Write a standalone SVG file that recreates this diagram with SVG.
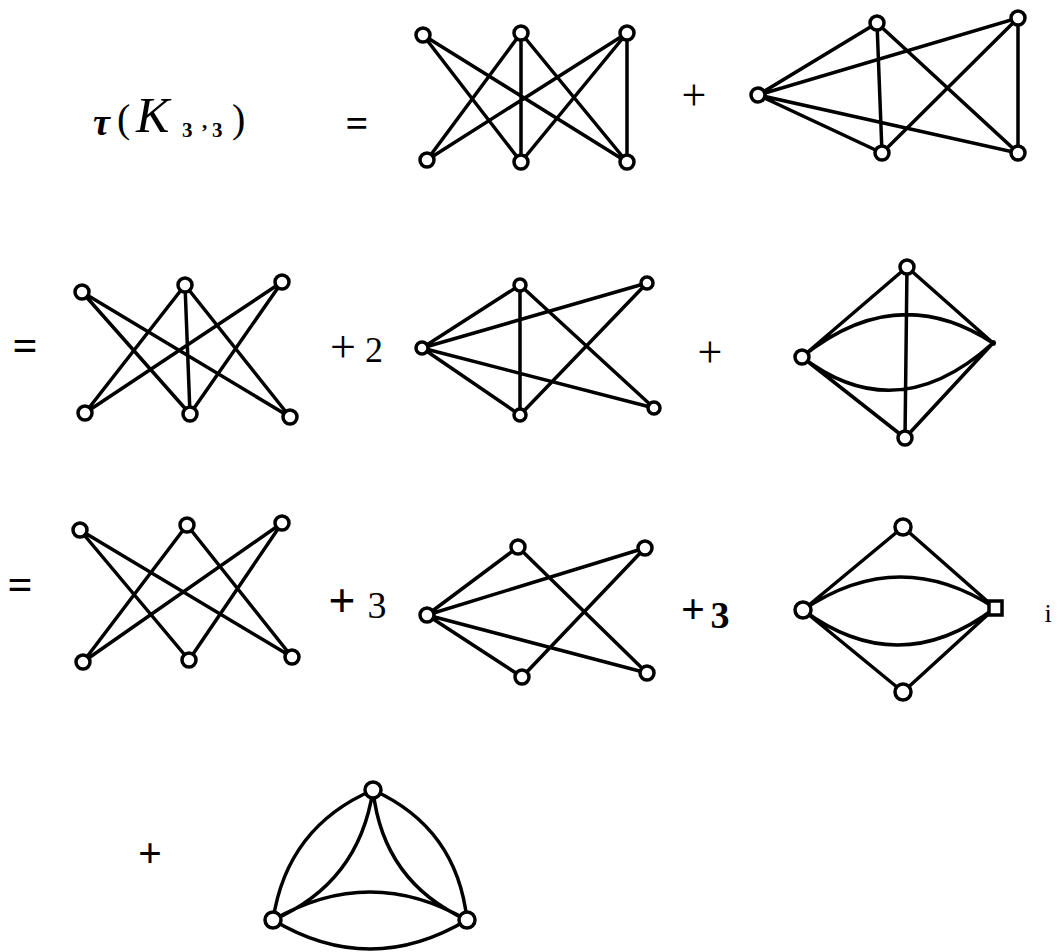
<svg xmlns="http://www.w3.org/2000/svg" width="1060" height="952" viewBox="0 0 1060 952">
<style>
.e{stroke:#000;stroke-width:3.5;fill:none;stroke-linecap:round}
.n{fill:#fff;stroke:#000;stroke-width:3.5}
.t{font-family:"Liberation Serif","DejaVu Serif",serif;fill:#000}
</style>
<rect width="1060" height="952" fill="#fff"/>

<g id="labels" class="t">
  <text x="93" y="135" font-size="38" font-weight="bold" font-style="italic">τ</text>
  <text x="117" y="132" font-size="40">(</text>
  <text x="136" y="132" font-size="50" font-style="italic">K</text>
  <text x="182" y="137" font-size="21" font-weight="bold">3</text>
  <text x="202" y="128" font-size="21" font-weight="bold">,</text>
  <text x="212" y="137" font-size="21" font-weight="bold">3</text>
  <text x="232" y="132" font-size="40">)</text>
  <text x="357" y="137" font-size="40" font-weight="bold" text-anchor="middle">=</text>
  <text x="694" y="110" font-size="44" text-anchor="middle">+</text>
  <text x="25" y="360" font-size="44" font-weight="bold" text-anchor="middle">=</text>
  <text x="343" y="362" font-size="46" text-anchor="middle">+</text>
  <text x="374" y="362" font-size="36" text-anchor="middle">2</text>
  <text x="710" y="367" font-size="44" text-anchor="middle">+</text>
  <text x="20" y="599" font-size="44" font-weight="bold" text-anchor="middle">=</text>
  <text x="342" y="617" font-size="48" text-anchor="middle" font-weight="bold">+</text>
  <text x="377" y="618" font-size="38" text-anchor="middle">3</text>
  <text x="693" y="623" font-size="42" text-anchor="middle" font-weight="bold">+</text>
  <text x="720" y="628" font-size="38" text-anchor="middle" font-weight="bold">3</text>
  <text x="1048" y="622" font-size="26" text-anchor="middle">i</text>
  <text x="150" y="867" font-size="42" text-anchor="middle" font-weight="bold">+</text>
</g>

<g id="connectors">
  <!-- A -->
  <path class="e" d="M423,35L521,162M423,35L627,162M521,33L427,160M521,33L521,162M521,33L627,162M627,33L427,160M627,33L521,162M627,33L627,162"/>
  <!-- B -->
  <path class="e" d="M758,95L877,23M758,95L1018,18M758,95L882,153M758,95L1018,153M877,23L882,153M877,23L1018,153M1018,18L882,153M1018,18L1018,153"/>
  <!-- C -->
  <path class="e" d="M82,292L190,414M82,292L290,417M185,285L85,413M185,285L190,414M185,285L290,417M282,282L85,413M282,282L190,414"/>
  <!-- D -->
  <path class="e" d="M422,348L520,285M422,348L647,283M422,348L520,415M422,348L654,408M520,285L520,415M520,285L654,408M647,283L520,415"/>
  <!-- E -->
  <path class="e" d="M907,267L802,357M907,267L993,343M907,267L905,438M802,357L905,438M993,343L905,438M802,357Q897,280 993,343M802,357Q897,430 993,343"/>
  <!-- F -->
  <path class="e" d="M80,530L189,660M80,530L292,657M187,525L83,662M187,525L292,657M282,523L83,662M282,523L189,660"/>
  <!-- G -->
  <path class="e" d="M427,615L518,547M427,615L645,548M427,615L522,677M427,615L647,673M518,547L647,673M645,548L522,677"/>
  <!-- H -->
  <path class="e" d="M803,610L903,527M903,527L995,608M803,610L903,692M903,692L995,608M803,610Q899,545 995,608M803,610Q899,681 995,608"/>
  <!-- I -->
  <path class="e" d="M373,790Q287,827 273,920M373,790Q359,883 273,920M373,790Q457,828 467,920M373,790Q383,882 467,920M273,920Q370,864 467,920M273,920Q370,978 467,920"/>
</g>

<g id="graphA">
  <g id="A-TL"><circle class="n" cx="423" cy="35" r="7"/></g>
  <g id="A-TM"><circle class="n" cx="521" cy="33" r="7"/></g>
  <g id="A-TR"><circle class="n" cx="627" cy="33" r="7"/></g>
  <g id="A-BL"><circle class="n" cx="427" cy="160" r="7"/></g>
  <g id="A-BM"><circle class="n" cx="521" cy="162" r="7"/></g>
  <g id="A-BR"><circle class="n" cx="627" cy="162" r="7"/></g>
</g>
<g id="graphB">
  <g id="B-L"><circle class="n" cx="758" cy="95" r="7"/></g>
  <g id="B-T"><circle class="n" cx="877" cy="23" r="7"/></g>
  <g id="B-TR"><circle class="n" cx="1018" cy="18" r="7"/></g>
  <g id="B-B"><circle class="n" cx="882" cy="153" r="7"/></g>
  <g id="B-BR"><circle class="n" cx="1018" cy="153" r="7"/></g>
</g>
<g id="graphC">
  <g id="C-TL"><circle class="n" cx="82" cy="292" r="7"/></g>
  <g id="C-TM"><circle class="n" cx="185" cy="285" r="7"/></g>
  <g id="C-TR"><circle class="n" cx="282" cy="282" r="7"/></g>
  <g id="C-BL"><circle class="n" cx="85" cy="413" r="7"/></g>
  <g id="C-BM"><circle class="n" cx="190" cy="414" r="7"/></g>
  <g id="C-BR"><circle class="n" cx="290" cy="417" r="7"/></g>
</g>
<g id="graphD">
  <g id="D-L"><circle class="n" cx="422" cy="348" r="6"/></g>
  <g id="D-T"><circle class="n" cx="520" cy="285" r="6"/></g>
  <g id="D-TR"><circle class="n" cx="647" cy="283" r="6"/></g>
  <g id="D-B"><circle class="n" cx="520" cy="415" r="6"/></g>
  <g id="D-BR"><circle class="n" cx="654" cy="408" r="6"/></g>
</g>
<g id="graphE">
  <g id="E-T"><circle class="n" cx="907" cy="267" r="7"/></g>
  <g id="E-L"><circle class="n" cx="802" cy="357" r="7"/></g>
  <g id="E-R"><circle cx="993" cy="343" r="3" fill="#000"/></g>
  <g id="E-B"><circle class="n" cx="905" cy="438" r="7"/></g>
</g>
<g id="graphF">
  <g id="F-TL"><circle class="n" cx="80" cy="530" r="7"/></g>
  <g id="F-TM"><circle class="n" cx="187" cy="525" r="7"/></g>
  <g id="F-TR"><circle class="n" cx="282" cy="523" r="7"/></g>
  <g id="F-BL"><circle class="n" cx="83" cy="662" r="7"/></g>
  <g id="F-BM"><circle class="n" cx="189" cy="660" r="7"/></g>
  <g id="F-BR"><circle class="n" cx="292" cy="657" r="7"/></g>
</g>
<g id="graphG">
  <g id="G-L"><circle class="n" cx="427" cy="615" r="7"/></g>
  <g id="G-T"><circle class="n" cx="518" cy="547" r="7"/></g>
  <g id="G-TR"><circle class="n" cx="645" cy="548" r="7"/></g>
  <g id="G-B"><circle class="n" cx="522" cy="677" r="7"/></g>
  <g id="G-BR"><circle class="n" cx="647" cy="673" r="7"/></g>
</g>
<g id="graphH">
  <g id="H-T"><circle class="n" cx="903" cy="527" r="8"/></g>
  <g id="H-L"><circle class="n" cx="803" cy="610" r="8"/></g>
  <g id="H-R"><rect class="n" x="989" y="601" width="13" height="14"/></g>
  <g id="H-B"><circle class="n" cx="903" cy="692" r="8"/></g>
</g>
<g id="graphI">
  <g id="I-T"><circle class="n" cx="373" cy="790" r="8"/></g>
  <g id="I-BL"><circle class="n" cx="273" cy="920" r="8"/></g>
  <g id="I-BR"><circle class="n" cx="467" cy="920" r="8"/></g>
</g>
</svg>
